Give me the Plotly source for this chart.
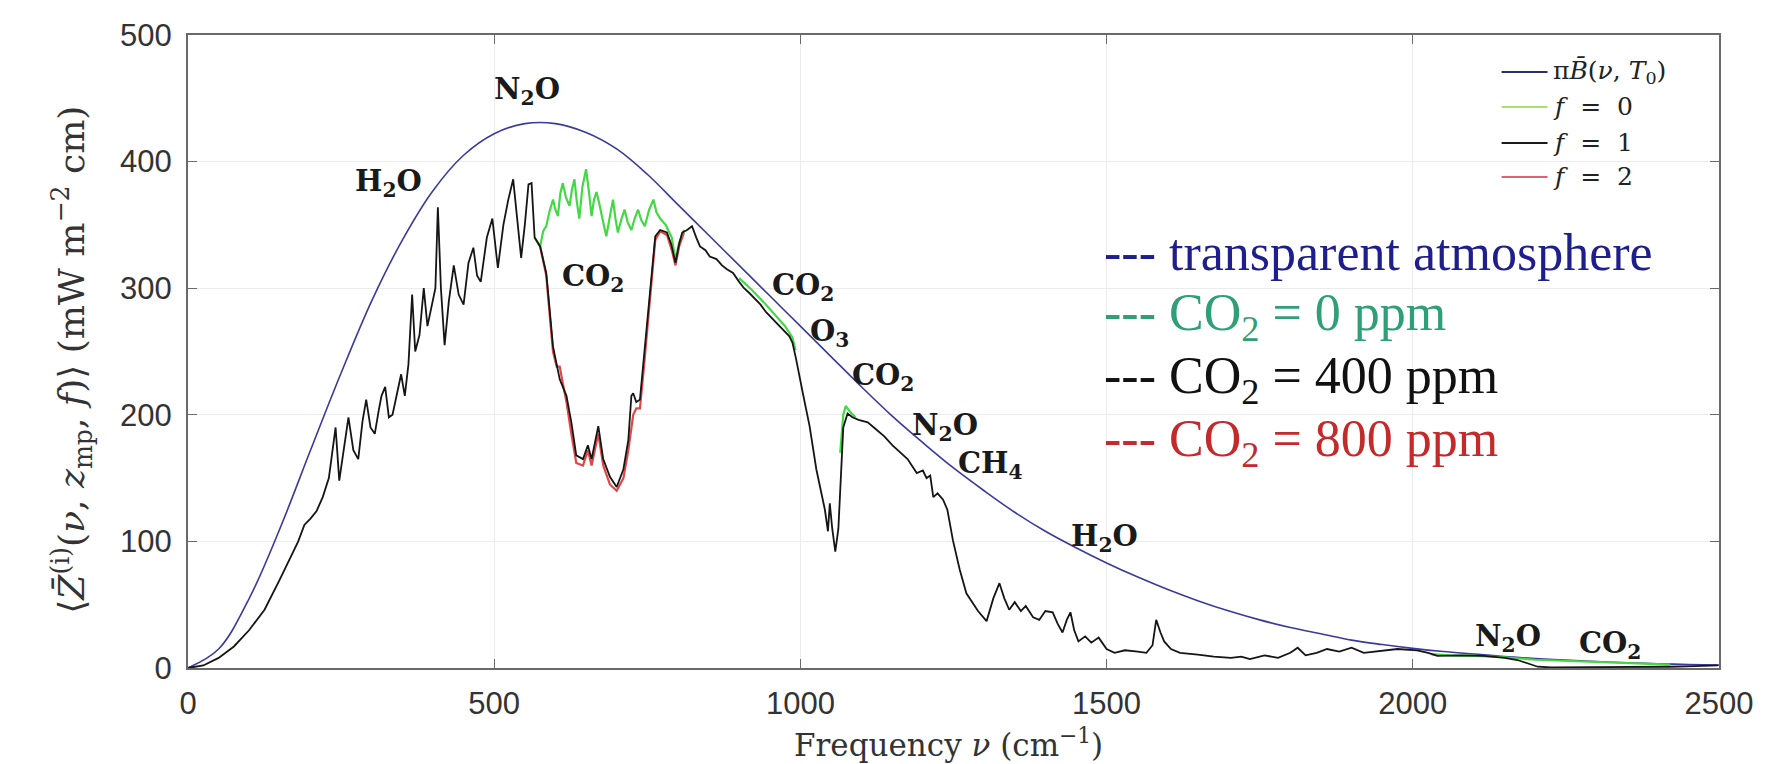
import plotly.graph_objects as go

# ---------------- data ----------------
planck_x = [0, 50, 100, 150, 200, 250, 300, 350, 400, 450, 500, 550, 600, 650, 700,
            750, 800, 850, 900, 950, 1000, 1050, 1100, 1150, 1200, 1250, 1300, 1350,
            1400, 1450, 1500, 1550, 1600, 1650, 1700, 1750, 1800, 1850, 1900, 1950,
            2000, 2050, 2100, 2150, 2200, 2250, 2300, 2350, 2400, 2450, 2500]
planck_y = [0, 15, 55, 110, 172, 233, 290, 338, 377, 405, 422, 430, 430, 423, 410,
            390, 366, 342, 318, 294, 270, 246, 222, 199, 178, 158, 140, 123,
            108, 95, 83, 72, 62, 53, 45, 38, 32, 27, 22, 18.5,
            15.5, 13, 11, 9, 7.5, 6.2, 5.1, 4.2, 3.4, 2.8, 2.3]

f1_x = [0, 25, 50, 75, 100, 125, 150, 160, 170, 180, 190, 200, 210, 220, 230, 236,
        241, 247, 255, 262, 270, 278, 285, 291, 298, 305, 312, 316, 322, 328, 334,
        341, 348, 354, 360, 366, 371, 378, 385, 391, 398, 404, 408, 413, 419, 426,
        434, 442, 450, 458, 466, 472, 478, 488, 497, 506, 515, 523, 531, 538, 544,
        550, 556, 561, 566, 575, 585, 590, 596, 607, 618, 626, 634, 645, 653, 659,
        670, 678, 689, 700, 711, 719, 724, 727, 732, 738, 744, 750, 755, 763, 771,
        782, 789, 796, 802, 807, 815, 823, 830, 836, 845, 852, 863, 872, 880, 890,
        900, 908, 917, 925, 935, 944, 952, 960, 970, 982, 987, 993, 1004, 1015,
        1026, 1034, 1040, 1045, 1048, 1052, 1057, 1062, 1066, 1070, 1077, 1085,
        1095, 1110, 1120, 1137, 1150, 1164, 1175, 1190, 1200, 1206, 1212, 1217,
        1224, 1233, 1240, 1249, 1260, 1271, 1280, 1290, 1304, 1315, 1325, 1333,
        1341, 1350, 1360, 1368, 1380, 1390, 1400, 1412, 1420, 1428, 1435, 1441,
        1447, 1454, 1465, 1475, 1487, 1500, 1513, 1530, 1551, 1565, 1575, 1581,
        1588, 1594, 1605, 1620, 1649, 1675, 1703, 1720, 1734, 1758, 1780, 1800,
        1812, 1825, 1843, 1860, 1880, 1900, 1920, 1952, 1975, 2007, 2025, 2040,
        2080, 2116, 2150, 2171, 2190, 2204, 2226, 2300, 2389, 2420, 2460, 2498]
f1_y = [0, 2, 8, 17, 30, 46, 70, 80, 90, 100, 113, 118, 124, 135, 150, 170,
        190, 148, 175, 198, 172, 165, 195, 212, 190, 185, 205, 215, 222, 198, 200,
        215, 232, 215, 240, 295, 250, 263, 300, 270, 285, 300, 364, 300, 255, 290,
        318, 295, 287, 320, 332, 310, 305, 340, 355, 316, 350, 370, 386, 350, 324,
        350, 382, 383, 340, 333, 312, 286, 254, 228, 215, 194, 168, 165, 176, 165,
        191, 165, 151, 143, 157, 180, 215, 217, 210, 212, 243, 270, 296, 341, 346,
        344, 335, 320, 335, 344, 346, 349, 340, 333, 330, 325, 323, 318, 315, 312,
        305, 300, 296, 292, 287, 281, 277, 273, 268, 262, 257, 244, 217, 191,
        157, 139, 125, 108, 130, 110, 92, 110, 150, 190, 201, 198,
        196, 194, 190, 183, 176, 170, 165, 154, 156, 150, 152, 135,
        138, 133, 125, 101, 78, 59, 52, 45, 37, 55, 67, 55,
        46, 52, 45, 49, 40, 38, 45, 44, 35, 28, 38, 44,
        30, 21, 25, 20, 24, 15, 12, 14, 13, 12, 18, 38,
        28, 21, 15, 12, 10.5, 9, 8, 9, 7, 10, 8, 12,
        16, 10, 12, 15, 13, 16, 12, 14, 15, 14, 12, 9.5,
        10, 9.5, 8, 6.3, 3, 1, 0.5, 0.5, 0.5, 1, 1.5, 2]

f0_x = [566, 575, 580, 585, 590, 596, 600, 604, 608, 612, 617, 623, 627, 631, 635,
        639, 644, 650, 655, 659, 663, 667, 671, 675, 679, 683, 689, 694, 698, 702,
        708, 713, 718, 724, 730, 735, 740, 746, 753, 760, 765, 771, 780, 790, 796,
        802, 810, None,
        900, 920, 940, 960, 975, 987, 992, None,
        1065, 1070, 1074, 1080, 1090, None,
        2030, 2060, 2100, 2150, 2200, 2250, 2300, 2350, 2400, 2420]
f0_y = [340, 333, 345, 349, 360, 370, 362, 357, 375, 383, 372, 365, 378, 386, 368,
        355, 380, 394, 375, 357, 370, 376, 368, 360, 350, 341, 358, 370, 355, 344,
        355, 362, 352, 346, 356, 362, 354, 349, 362, 370, 360, 355, 350, 340, 322,
        336, 346, None,
        308, 299, 289, 278, 270, 261, 251, None,
        170, 200, 207, 203, 198, None,
        11, 10, 9.5, 8.5, 6.5, 5.5, 4.6, 3.8, 3.0, 2.6]

f2_x = [575, 585, 590, 596, 602, 607, 612, 618, 626, 634, 645, 653, 659, 670, 678,
        689, 700, 711, 719, 727, 732, 738, 744, 750, 755, 763, 771, 782, 790, 796,
        802, 810]
f2_y = [333, 310, 282, 250, 238, 238, 225, 210, 185, 162, 160, 172, 160, 185, 160,
        145, 140, 150, 172, 200, 205, 205, 235, 268, 292, 338, 345, 342, 330, 318,
        333, 344]

label_text = ["H<sub>2</sub>O", "N<sub>2</sub>O", "CO<sub>2</sub>", "CO<sub>2</sub>",
              "O<sub>3</sub>", "CO<sub>2</sub>", "N<sub>2</sub>O", "CH<sub>4</sub>",
              "H<sub>2</sub>O", "N<sub>2</sub>O", "CO<sub>2</sub>"]
label_x = [328, 553, 661, 1004, 1048, 1135, 1236, 1310, 1497, 2156, 2322]
label_y = [383, 456, 308, 301, 265, 230, 190, 160, 103, 24, 18]

legend_names = ["π<i>B̄</i>(<i>ν</i>,\u00a0<i>T</i><sub>0</sub>)",
                "<i>f</i>\u00a0\u00a0=\u00a0\u00a00",
                "<i>f</i>\u00a0\u00a0=\u00a0\u00a01",
                "<i>f</i>\u00a0\u00a0=\u00a0\u00a02"]
legend_colors = ["#2e2e6e", "#a8e070", "#1a1a1a", "#e06078"]

note_text = ["--- transparent atmosphere", "--- CO<sub>2</sub> = 0 ppm",
             "--- CO<sub>2</sub> = 400 ppm", "--- CO<sub>2</sub> = 800 ppm"]
note_color = ["#1e1e8c", "#2f9f78", "#111111", "#c42a2a"]

x_ticks = [0, 500, 1000, 1500, 2000, 2500]
y_ticks = [0, 100, 200, 300, 400, 500]

# ---------------- figure ----------------
fig = go.Figure()
fig.add_trace(go.Scatter(x=planck_x, y=planck_y, mode="lines",
                         line=dict(color="#3a3a9c", width=1.6, shape="spline"), name=legend_names[0]))
fig.add_trace(go.Scatter(x=f0_x, y=f0_y, mode="lines", line=dict(color="#45d845", width=2.2),
                         name=legend_names[1], connectgaps=False))
fig.add_trace(go.Scatter(x=f2_x, y=f2_y, mode="lines", line=dict(color="#e04848", width=2.2),
                         name=legend_names[3]))
fig.add_trace(go.Scatter(x=f1_x, y=f1_y, mode="lines", line=dict(color="#151515", width=1.8),
                         name=legend_names[2]))

annotations = []
shapes = []
for t, x, y in zip(label_text, label_x, label_y):
    annotations.append(dict(x=x, y=y, xref="x", yref="y", text="<b>" + t + "</b>", showarrow=False,
                            font=dict(family="DejaVu Serif", size=29, color="#1a1a1a")))

# manual legend (top right of the axes)
leg_y = [0.9415, 0.8863, 0.8294, 0.7757]
for name, col, y in zip(legend_names, legend_colors, leg_y):
    shapes.append(dict(type="line", xref="paper", yref="paper", x0=0.858, x1=0.888, y0=y, y1=y,
                       line=dict(color=col, width=2)))
    annotations.append(dict(x=0.890, y=y, xref="paper", yref="paper", text=name, showarrow=False,
                            xanchor="left", yanchor="middle",
                            font=dict(family="DejaVu Serif", size=25, color="#222222")))

note_y = [0.657, 0.555, 0.455, 0.357]
for t, c, y in zip(note_text, note_color, note_y):
    annotations.append(dict(x=0.597, y=y, xref="paper", yref="paper", text=t, showarrow=False,
                            xanchor="left", yanchor="middle",
                            font=dict(family="Liberation Serif", size=52, color=c)))
annotations.append(dict(x=0.497, y=-0.119, xref="paper", yref="paper", xanchor="center", yanchor="middle",
                        text="Frequency <i>ν</i> (cm<sup>−1</sup>)", showarrow=False,
                        font=dict(family="DejaVu Serif", size=31, color="#333333")))
annotations.append(dict(x=-0.0758, y=0.487, xref="paper", yref="paper", textangle=-90,
                        xanchor="center", yanchor="middle",
                        text="⟨<i>Z̄</i><sup>(i)</sup>(<i>ν</i>, <i>z</i><sub>mp</sub>, <i>f</i>)⟩ (mW m<sup>−2</sup> cm)",
                        showarrow=False, font=dict(family="DejaVu Serif", size=36, color="#333333")))

fig.update_layout(
    width=1777, height=764,
    margin=dict(l=188, r=58, t=35, b=96),
    paper_bgcolor="white", plot_bgcolor="white",
    annotations=annotations, shapes=shapes,
    showlegend=False,
)
fig.update_xaxes(range=[0, 2500], tickvals=x_ticks, ticktext=[str(v) for v in x_ticks],
                 showline=True, linecolor="#6a6a6a", linewidth=2, mirror="ticks",
                 ticks="inside", ticklen=9, tickcolor="#6a6a6a",
                 showgrid=True, gridcolor="#ececec", gridwidth=1, zeroline=False,
                 tickfont=dict(family="Liberation Sans", size=31, color="#333333"),
                 ticklabelstandoff=7)
fig.update_yaxes(range=[0, 500], tickvals=y_ticks, ticktext=[str(v) for v in y_ticks],
                 showline=True, linecolor="#6a6a6a", linewidth=2, mirror="ticks",
                 ticks="inside", ticklen=9, tickcolor="#6a6a6a",
                 showgrid=True, gridcolor="#ececec", gridwidth=1, zeroline=False,
                 tickfont=dict(family="Liberation Sans", size=31, color="#333333"),
                 ticklabelstandoff=8)

fig.write_html("out.html")
